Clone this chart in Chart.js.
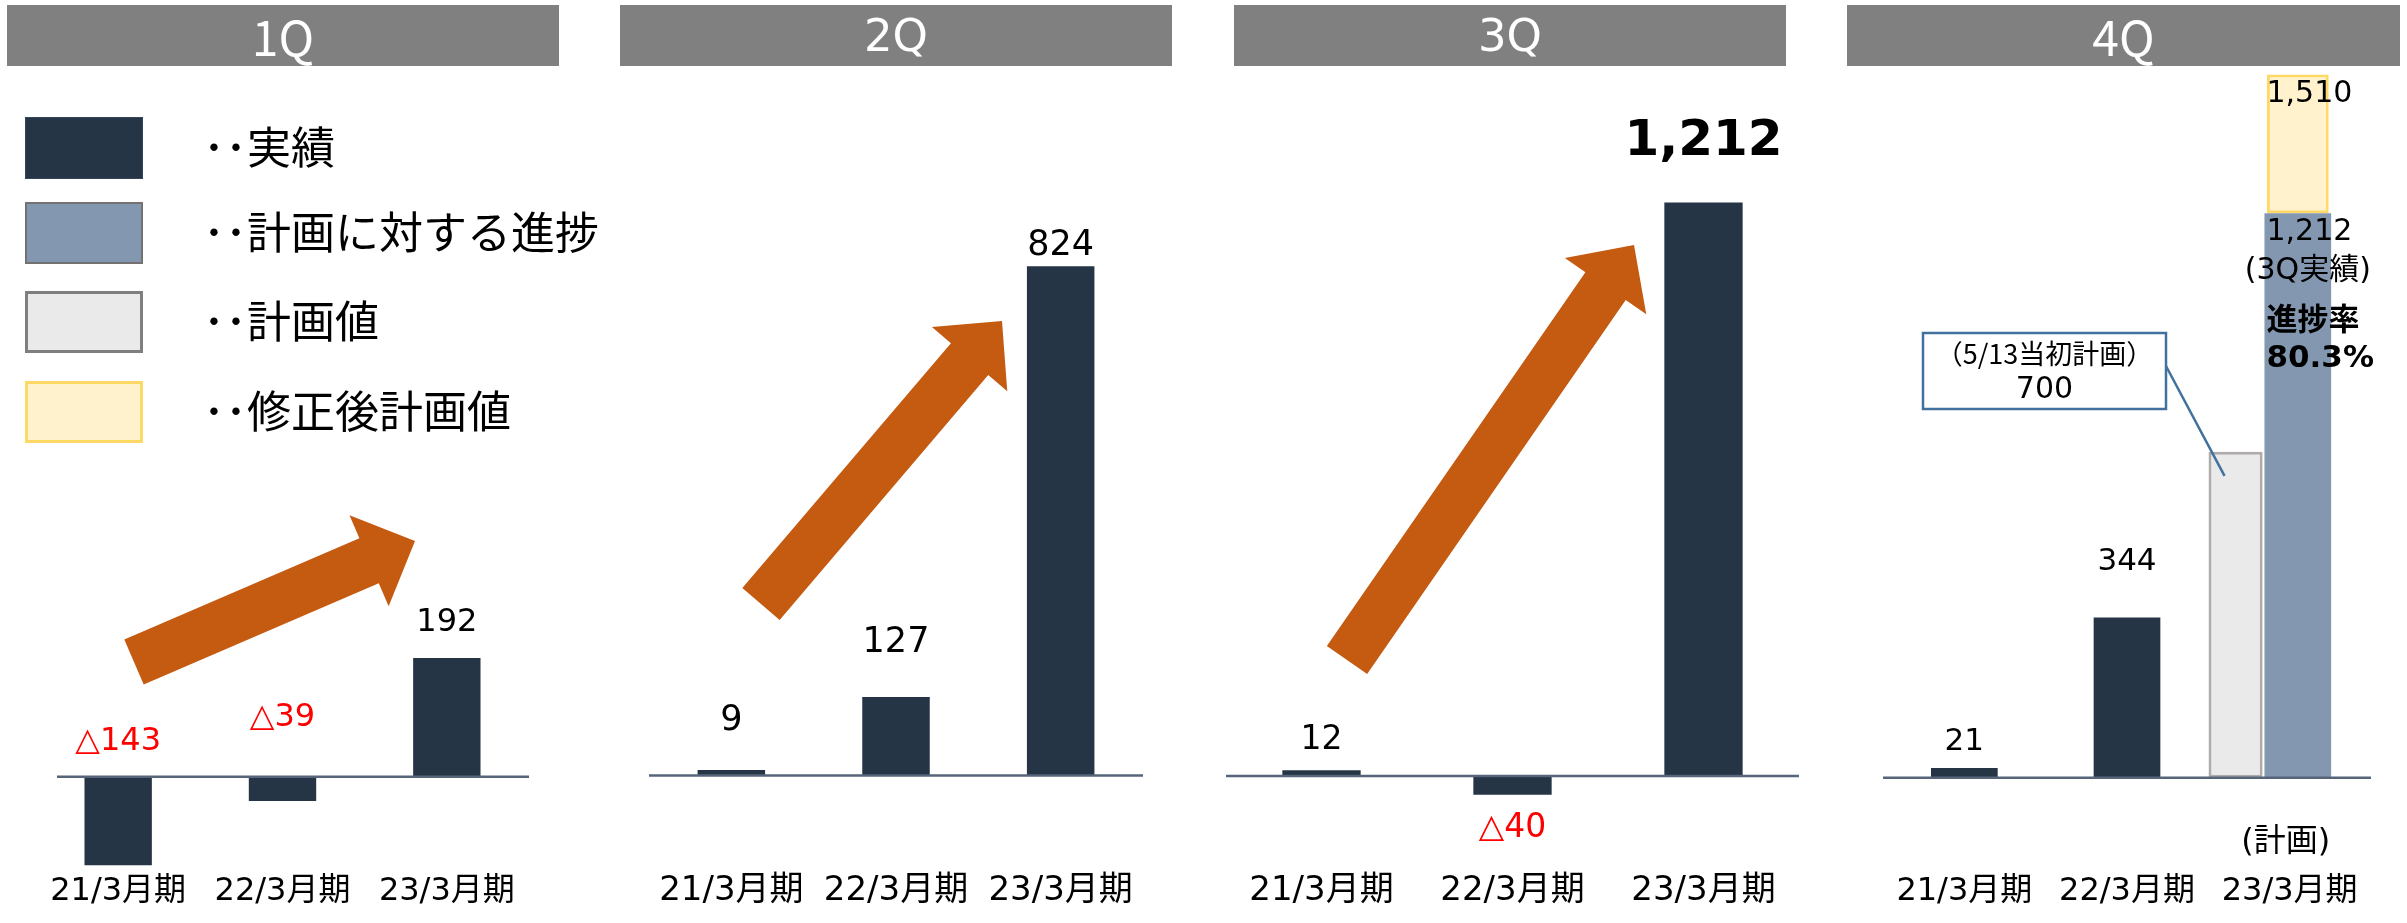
<!DOCTYPE html>
<html lang="ja">
<head>
<meta charset="utf-8">
<title>四半期別 推移</title>
<script src="https://cdn.jsdelivr.net/npm/chart.js@4.4.1/dist/chart.umd.min.js"></script>
<style>
  body { margin: 0; width: 2407px; height: 923px; position: relative; overflow: hidden; background: #fff; font-family: 'Noto Sans CJK JP', sans-serif; }
  canvas { position: absolute; top: 0; }
  .head { position: absolute; top: 5px; height: 61px; line-height: 61px; background: #808080; color: #fff; text-align: center; font-size: 48px; z-index: 2; }
  .head.dv { font-family: 'DejaVu Sans', sans-serif; font-size: 45px; }
  .sw { position: absolute; left: 25px; width: 118px; height: 62px; box-sizing: border-box; z-index: 2; }
  .lt { position: absolute; left: 203px; height: 62px; line-height: 62px; font-size: 44px; color: #000; z-index: 2; white-space: nowrap; }
</style>
</head>
<body>
<canvas id="c1" width="600" height="923" style="left:0px"></canvas>
<canvas id="c2" width="620" height="923" style="left:600px"></canvas>
<canvas id="c3" width="610" height="923" style="left:1220px"></canvas>
<canvas id="c4" width="577" height="923" style="left:1830px"></canvas>
<script>
// data
const quarters = ['1Q', '2Q', '3Q', '4Q'];
const categories = ['21/3月期', '22/3月期', '23/3月期'];
const q1Actual = [-143, -39, 192];
const q2Actual = [9, 127, 824];
const q3Actual = [12, -40, 1212];
const q4Actual = [21, 344, null];
const q4InitialPlan = [null, null, 700];
const q4Progress = [null, null, 1212];
const q4RevisedPlan = [null, null, [1212, 1510]];
const progressRate = 80.3;
const legendLabels = ['実績', '計画に対する進捗', '計画値', '修正後計画値'];

const NAVY = '#253546';
const SLATE = '#8497B0';
const PLAN = '#EAEAEA';
const REVISED = '#FFF2CC';
const ORANGE = '#C55A11';
const FONT = "'DejaVu Sans', 'Noto Sans CJK JP', sans-serif";

Chart.defaults.font.family = FONT;
Chart.defaults.color = '#000';

// header bars
const heads = [[7, 552, ''], [620, 552, 'dv'], [1234, 552, 'dv'], [1847, 553, '']];
quarters.forEach((q, i) => {
  const d = document.createElement('div');
  d.className = 'head ' + heads[i][2];
  d.style.left = heads[i][0] + 'px';
  d.style.width = heads[i][1] + 'px';
  d.textContent = q;
  document.body.appendChild(d);
});

// legend (1Q panel)
const swatches = [
  { fill: NAVY, border: '#34445a', bw: 1, top: 117 },
  { fill: SLATE, border: '#767171', bw: 2, top: 202 },
  { fill: PLAN, border: '#7F7F7F', bw: 3, top: 291 },
  { fill: REVISED, border: '#FFD966', bw: 3, top: 381 }
];
legendLabels.forEach((txt, i) => {
  const s = swatches[i];
  const sq = document.createElement('div');
  sq.className = 'sw';
  sq.style.top = s.top + 'px';
  sq.style.background = s.fill;
  sq.style.border = s.bw + 'px solid ' + s.border;
  document.body.appendChild(sq);
  const t = document.createElement('div');
  t.className = 'lt';
  t.style.top = (s.top - 3) + 'px';
  t.textContent = '･･' + txt;
  document.body.appendChild(t);
});

const fmt = v => (v < 0 ? '△' : '') + Math.abs(v).toLocaleString('en-US');

// zero line
const baseline = {
  id: 'baseline',
  afterDatasetsDraw(chart, args, o) {
    const { ctx, chartArea } = chart;
    const y0 = chart.scales.y.getPixelForValue(0);
    ctx.save();
    ctx.strokeStyle = '#56657A';
    ctx.lineWidth = 2.5;
    ctx.beginPath();
    ctx.moveTo(chartArea.left + (o.inset || 0), y0);
    ctx.lineTo(chartArea.right, y0);
    ctx.stroke();
    ctx.restore();
  }
};

// numbers above / below the bars of the first dataset
const valueLabels = {
  id: 'valueLabels',
  afterDatasetsDraw(chart, args, o) {
    const ctx = chart.ctx;
    const data = chart.data.datasets[0].data;
    const y0 = chart.scales.y.getPixelForValue(0);
    ctx.save();
    ctx.textAlign = 'center';
    ctx.textBaseline = 'middle';
    chart.getDatasetMeta(0).data.forEach((bar, i) => {
      const v = data[i];
      if (v == null) return;
      const off = o.offsets[i];
      let ty;
      if (v >= 0) ty = bar.y - off;
      else ty = o.negAbove ? y0 - off : bar.y + off;
      ctx.font = o.bigIndex === i ? o.bigFont : o.font;
      ctx.fillStyle = v < 0 ? '#FF0000' : '#000';
      ctx.fillText(fmt(v), bar.x, ty);
    });
    ctx.restore();
  }
};

// big orange trend arrows, page coordinates
const arrows = {
  c1: [[134, 662], [415, 541]],
  c2: [[761, 604], [1002, 321]],
  c3: [[1347, 660], [1634, 245]]
};
const trendArrow = {
  id: 'trendArrow',
  afterDatasetsDraw(chart) {
    const a = arrows[chart.canvas.id];
    if (!a) return;
    const off = chart.canvas.offsetLeft;
    const x1 = a[0][0] - off, y1 = a[0][1], x2 = a[1][0] - off, y2 = a[1][1];
    const len = Math.hypot(x2 - x1, y2 - y1);
    const shaft = 49, head = 99, headLen = 50;
    const ctx = chart.ctx;
    ctx.save();
    ctx.translate(x1, y1);
    ctx.rotate(Math.atan2(y2 - y1, x2 - x1));
    ctx.beginPath();
    ctx.moveTo(0, -shaft / 2);
    ctx.lineTo(len - headLen, -shaft / 2);
    ctx.lineTo(len - headLen, -head / 2);
    ctx.lineTo(len, 0);
    ctx.lineTo(len - headLen, head / 2);
    ctx.lineTo(len - headLen, shaft / 2);
    ctx.lineTo(0, shaft / 2);
    ctx.closePath();
    ctx.fillStyle = ORANGE;
    ctx.fill();
    ctx.restore();
  }
};

// 4Q callouts
const q4Notes = {
  id: 'q4Notes',
  afterDatasetsDraw(chart) {
    const ctx = chart.ctx;
    const off = chart.canvas.offsetLeft;
    const gray = chart.getDatasetMeta(1).data[2];
    const blue = chart.getDatasetMeta(2).data[2];
    const gold = chart.getDatasetMeta(3).data[2];
    const bl = blue.x - blue.width / 2 + 2;
    ctx.save();
    ctx.fillStyle = '#000';
    ctx.textBaseline = 'middle';
    ctx.textAlign = 'left';
    ctx.font = '30px ' + FONT;
    ctx.fillText(fmt(q4RevisedPlan[2][1]), bl, gold.y + 20);
    ctx.fillText(fmt(q4Progress[2]), bl, blue.y + 19);
    ctx.textAlign = 'center';
    ctx.fillText('(3Q実績)', blue.x + 10, blue.y + 58);
    ctx.textAlign = 'left';
    ctx.font = 'bold 31px ' + FONT;
    ctx.fillText('進捗率', bl, blue.y + 109);
    ctx.fillText(progressRate.toFixed(1) + '%', bl, blue.y + 146);

    ctx.textAlign = 'center';
    ctx.font = '32px ' + FONT;
    ctx.fillText('(計画)', chart.scales.x.getPixelForValue(2) - 4, 843);

    // initial plan callout box
    const bx = 1923 - off, by = 333, bw = 243, bh = 76;
    ctx.strokeStyle = '#41719C';
    ctx.lineWidth = 2.5;
    ctx.beginPath();
    ctx.moveTo(bx + bw, 366);
    ctx.lineTo(gray.x - gray.width / 2 + 16, gray.y + 24);
    ctx.stroke();
    ctx.fillStyle = '#fff';
    ctx.fillRect(bx, by, bw, bh);
    ctx.strokeRect(bx, by, bw, bh);
    ctx.fillStyle = '#000';
    ctx.font = "27px 'Noto Sans CJK JP', sans-serif";
    ctx.fillText('（5/13当初計画）', bx + bw / 2, by + 21);
    ctx.font = '30px ' + FONT;
    ctx.fillText(fmt(q4InitialPlan[2]), bx + bw / 2, by + 57);
    ctx.restore();
  }
};

function options(p) {
  return {
    responsive: false,
    animation: false,
    layout: { padding: { left: p.padL, right: p.padR, top: 0, bottom: p.padB } },
    plugins: {
      legend: { display: false },
      tooltip: { enabled: false },
      baseline: { inset: p.inset || 0 },
      valueLabels: p.labels
    },
    scales: {
      x: {
        grid: { display: false, drawTicks: false },
        border: { display: false },
        ticks: { font: { size: p.tick }, color: '#000', padding: 3, maxRotation: 0, autoSkip: false }
      },
      y: { display: false, stacked: false, min: p.min, max: p.max }
    }
  };
}

function actualSet(data) {
  return { data, backgroundColor: NAVY, borderWidth: 0, categoryPercentage: 0.82, barPercentage: 0.5 };
}

new Chart(document.getElementById('c1'), {
  type: 'bar',
  data: { labels: categories, datasets: [actualSet(q1Actual)] },
  options: options({ padL: 36, padR: 71, padB: 9, tick: 32, min: -150, max: 1255, inset: 21,
    labels: { font: '32px ' + FONT, offsets: [35, 59, 35], negAbove: true } }),
  plugins: [baseline, trendArrow, valueLabels]
});

new Chart(document.getElementById('c2'), {
  type: 'bar',
  data: { labels: categories, datasets: [actualSet(q2Actual)] },
  options: options({ padL: 49, padR: 77, padB: 8, tick: 34, min: -150, max: 1255,
    labels: { font: '35px ' + FONT, offsets: [49, 54, 20] } }),
  plugins: [baseline, trendArrow, valueLabels]
});

new Chart(document.getElementById('c3'), {
  type: 'bar',
  data: { labels: categories, datasets: [actualSet(q3Actual)] },
  options: options({ padL: 6, padR: 31, padB: 8, tick: 34, min: -195, max: 1640,
    labels: { font: '33px ' + FONT, offsets: [30, 34, 60], bigIndex: 2, bigFont: 'bold 50px ' + FONT } }),
  plugins: [baseline, trendArrow, valueLabels]
});

// 23/3 plan pair: gray slot pushed left, progress slot kept near the category centre
new Chart(document.getElementById('c4'), {
  type: 'bar',
  data: {
    labels: categories,
    datasets: [
      Object.assign(actualSet(q4Actual), { label: '実績', stack: 'a', skipNull: true, order: 0 }),
      { label: '計画値', data: q4InitialPlan, stack: 'b', skipNull: true, order: 0,
        backgroundColor: PLAN, borderColor: '#AFABAB', borderWidth: 3, borderSkipped: false,
        categoryPercentage: 1.33, barPercentage: 0.5 },
      { label: '計画に対する進捗', data: q4Progress, stack: 'c', skipNull: true, order: 1,
        backgroundColor: SLATE, borderWidth: 0, categoryPercentage: 0.2, barPercentage: 4.1 },
      { label: '修正後計画値', data: q4RevisedPlan, stack: 'c', skipNull: true, order: 2,
        backgroundColor: REVISED, borderColor: '#FFD966', borderWidth: 3, borderSkipped: false,
        categoryPercentage: 0.2, barPercentage: 3.8 }
    ]
  },
  options: options({ padL: 53, padR: 36, padB: 9, tick: 32, min: -197, max: 1670,
    labels: { font: '31px ' + FONT, offsets: [26, 56] } }),
  plugins: [baseline, q4Notes, valueLabels]
});
</script>
</body>
</html>
